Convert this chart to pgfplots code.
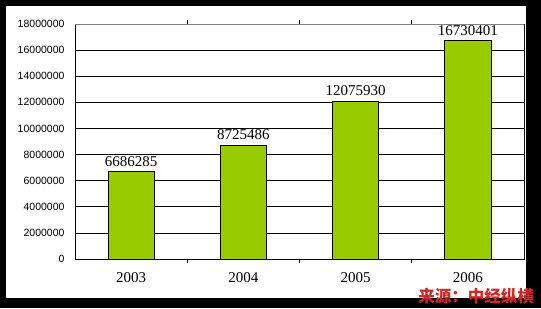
\documentclass[border=0pt]{standalone}
\usepackage{pgfplots}
\pgfplotsset{compat=1.18}
\usepackage{fontspec}
\setmainfont{Liberation Sans}
\newfontfamily\seriffont{Liberation Serif}
\newfontfamily\cjk{Noto Sans CJK SC}
\definecolor{barg}{HTML}{99CC00}
\definecolor{srcred}{HTML}{D02828}
\begin{document}
\begin{tikzpicture}[x=1pt,y=1pt]
\useasboundingbox (0,0) rectangle (541,308);
\fill[black] (0,0) rectangle (541,308);
\fill[white] (6,10) rectangle (526,302);
\begin{axis}[at={(75pt,49pt)}, anchor=south west, scale only axis,
  width=449pt, height=235pt,
  xmin=-0.5, xmax=3.5, ymin=0, ymax=18000000,
  xtick={0,1,2,3}, xticklabels={2003,2004,2005,2006},
  minor xtick={0.5,1.5,2.5},
  ytick={0,2000000,4000000,6000000,8000000,10000000,12000000,14000000,16000000,18000000},
  scaled y ticks=false,
  /pgf/number format/assume math mode=true,
  yticklabel={\pgfmathprintnumber[fixed,1000 sep={},precision=0]{\tick}},
  yticklabel style={font=\fontsize{10.5}{12}\selectfont, xshift=-7pt},
  xticklabel style={font=\seriffont\fontsize{15}{17}\selectfont, yshift=-12pt, inner sep=1pt},
  major tick length=0pt, minor tick length=4pt, tick align=inside,
  tick style={black, line width=0.75pt},
  ymajorgrids, grid style={black, line width=0.75pt},
  axis line style={black, line width=0.75pt},
  ybar, bar width=0.41,
  point meta=explicit symbolic,
  nodes near coords,
  nodes near coords style={font=\seriffont\fontsize{15}{18}\selectfont, yshift=1.5pt, black},
]
\addplot[fill=barg, draw=black, line width=0.75pt] table[meta=lab] {
x y lab
0 6686285 6686285
1 8725486 8725486
2 12075930 12075930
3 16730401 16730401
};
\draw[gray, line width=0.75pt] (rel axis cs:0,1) -- (rel axis cs:1,1) -- (rel axis cs:1,0);
\end{axis}
\node[text=srcred, inner sep=0pt, font=\cjk\bfseries\fontsize{16.5}{18}\selectfont] at (476,12) {来源：中经纵横};
\end{tikzpicture}
\end{document}
